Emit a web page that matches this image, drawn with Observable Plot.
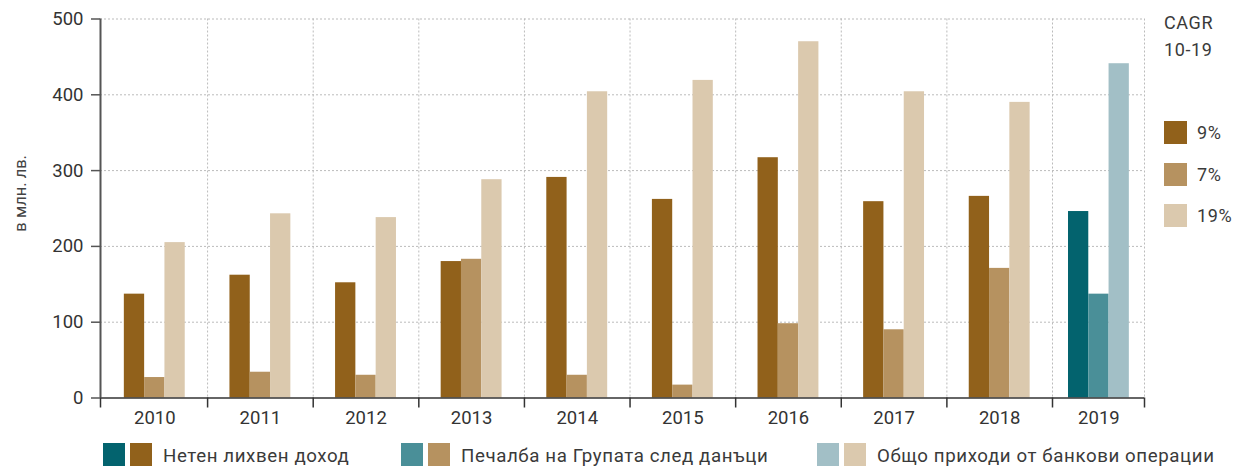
<!DOCTYPE html>
<html>
<head>
<meta charset="utf-8">
<script src="https://cdn.jsdelivr.net/npm/d3@7"></script>
<script src="https://cdn.jsdelivr.net/npm/@observablehq/plot@0.6"></script>
<style>
  body { margin: 0; background: #fff; font-family: Roboto, "Noto Sans", sans-serif; color: #333; }
  #wrap { position: relative; width: 1239px; height: 466px; overflow: hidden; }
  .sw { position: absolute; width: 22px; height: 23px; }
  .lt { position: absolute; font-size: 18.7px; letter-spacing: 0.6px; color: #3a3a3a; white-space: nowrap; line-height: 23px; }
</style>
</head>
<body>
<div id="wrap"></div>
<script>
const years = [2010, 2011, 2012, 2013, 2014, 2015, 2016, 2017, 2018, 2019];
const seriesNames = ["Нетен лихвен доход", "Печалба на Групата след данъци", "Общо приходи от банкови операции"];
const netInterest = [137, 162, 152, 180, 291, 262, 317, 259, 266, 246];
const profit = [27, 34, 30, 183, 30, 17, 98, 90, 171, 137];
const revenue = [205, 243, 238, 288, 404, 419, 470, 404, 390, 441];
const yTicks = [0, 100, 200, 300, 400, 500];
const cagrTitle = ["CAGR", "10-19"];
const cagrLabels = ["9%", "7%", "19%"];
const yLabel = "в млн. лв.";
const historyColors = ["#91611b", "#b69260", "#dbc9ae"];
const latestColors = ["#03636e", "#4a8f98", "#a2bfc6"];

const series = [netInterest, profit, revenue];
const rows = [];
series.forEach((vals, s) => vals.forEach((v, i) => rows.push({year: years[i], value: v, s})));

const w = 0.1922;
const lastYear = years[years.length - 1];
const xMin = 2009.486, xMax = 2019.432;
const lastStart = lastYear - 1.5 * w;
const boundaries = [xMin, ...years.slice(0, -1).map(y => y + 0.5), xMax];

const chart = Plot.plot({
  width: 1239,
  height: 432,
  marginLeft: 100,
  marginRight: 95,
  marginTop: 18.5,
  marginBottom: 34.5,
  style: {fontFamily: "Roboto, 'Noto Sans', sans-serif", fontSize: "18.5px", color: "#333", background: "#fff", overflow: "visible"},
  x: {type: "linear", domain: [xMin, lastYear - 0.5, lastStart, xMax], range: [100, 1052, 1068, 1144]},
  y: {domain: [0, 500]},
  color: {type: "identity"},
  marks: [
    Plot.gridY({ticks: yTicks.slice(1), stroke: "#bbb", strokeOpacity: 1, strokeDasharray: "2,2"}),
    Plot.gridX({ticks: boundaries.slice(1), stroke: "#bbb", strokeOpacity: 1, strokeDasharray: "2,2"}),
    Plot.rectY(rows, {
      x1: d => d.year + (d.s - 1.5) * w,
      x2: d => d.year + (d.s - 0.5) * w,
      y: "value",
      fill: d => d.year === lastYear ? latestColors[d.s] : historyColors[d.s]
    }),
    Plot.ruleY([0], {stroke: "#333", strokeWidth: 1.6}),
    Plot.ruleX([xMin], {y1: 0, y2: 500, stroke: "#555", strokeWidth: 2}),
    Plot.axisX({ticks: boundaries, tickSize: 10, tickFormat: () => "", stroke: "#333", strokeWidth: 1.5}),
    Plot.axisX({ticks: years, tickSize: 0, tickPadding: 13, tickFormat: d => String(d), fontSize: 18.5, fill: "#333", label: null}),
    Plot.axisY({ticks: yTicks, tickSize: 9, tickPadding: 8, tickFormat: d => String(d), fontSize: 18.5, fill: "#333", stroke: "#555", strokeWidth: 1.5, label: null}),
    Plot.text([yLabel], {x: xMin, y: 270, dx: -80, rotate: -90, fontSize: 16.5, fill: "#444", text: d => d})
  ]
});

const wrap = document.getElementById("wrap");
wrap.appendChild(chart);

// bottom legend
const groupLeft = [103, 401, 817];
seriesNames.forEach((name, i) => {
  const l = groupLeft[i];
  const a = document.createElement("div");
  a.className = "sw"; a.style.left = l + "px"; a.style.top = "443px"; a.style.background = latestColors[i];
  const b = document.createElement("div");
  b.className = "sw"; b.style.left = (l + 27) + "px"; b.style.top = "443px"; b.style.background = historyColors[i];
  const t = document.createElement("div");
  t.className = "lt"; t.style.left = (l + 60) + "px"; t.style.top = "445px"; t.textContent = name;
  wrap.append(a, b, t);
});

// CAGR legend
cagrTitle.forEach((s, i) => {
  const t = document.createElement("div");
  t.className = "lt"; t.style.fontSize = "18px"; t.style.left = "1164px"; t.style.top = (11 + i * 27) + "px"; t.textContent = s;
  wrap.append(t);
});
cagrLabels.forEach((s, i) => {
  const top = 121 + i * 41.5;
  const a = document.createElement("div");
  a.className = "sw"; a.style.width = "23px"; a.style.left = "1164px"; a.style.top = top + "px"; a.style.background = historyColors[i];
  const t = document.createElement("div");
  t.className = "lt"; t.style.fontSize = "18px"; t.style.left = "1197px"; t.style.top = (top) + "px"; t.textContent = s;
  wrap.append(a, t);
});
</script>
</body>
</html>
